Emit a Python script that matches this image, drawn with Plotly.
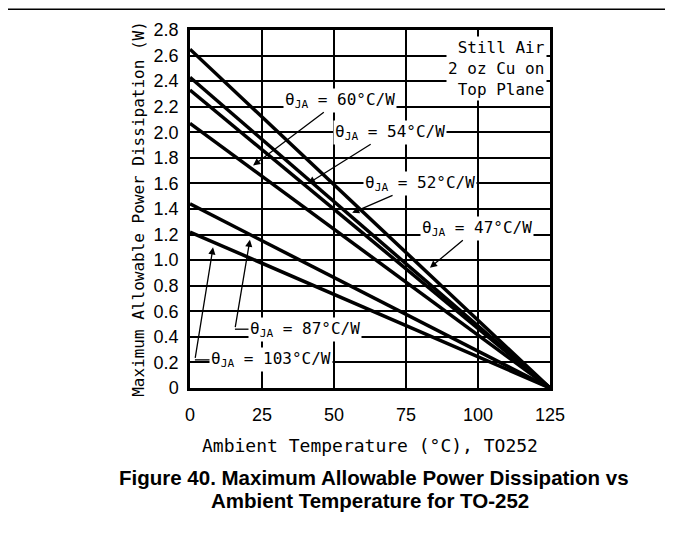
import plotly.graph_objects as go

# ambient temperature (C) and power at 0 C for each theta_JA curve
temps = [0, 125]
theta = ["47", "52", "54", "60", "87", "103"]
p_at_0 = [2.65, 2.43, 2.33, 2.07, 1.44, 1.22]

y_ticks = [0, 0.2, 0.4, 0.6, 0.8, 1.0, 1.2, 1.4, 1.6, 1.8, 2.0, 2.2, 2.4, 2.6, 2.8]
y_ticktext = ["0", "0.2", "0.4", "0.6", "0.8", "1.0", "1.2", "1.4", "1.6", "1.8",
              "2.0", "2.2", "2.4", "2.6", "2.8"]
x_ticks = [0, 25, 50, 75, 100, 125]

mono = "DejaVu Sans Mono, Liberation Mono, monospace"
sans = "Liberation Sans, Arial, sans-serif"

fig = go.Figure()
for t, p in zip(theta, p_at_0):
    fig.add_trace(go.Scatter(x=temps, y=[p, 0], mode="lines", name=t,
                             line=dict(color="black", width=3.5)))

lab_font = dict(family=mono, size=16, color="black")
arr = dict(arrowhead=2, arrowsize=1.1, arrowwidth=1.3, arrowcolor="black",
           axref="x", ayref="y")

def theta_text(v):
    return "θ<sub>JA</sub> = " + v + "°C/W"

# labels with arrows: (text, label x, label y, tip x, tip y)
arrows = [
    ("60", 52, 2.25, 21.9, 1.74),
    ("54", 69.4, 2.00, 41, 1.60),
    ("52", 80, 1.60, 56.3, 1.37),
    ("47", 99.7, 1.25, 83.3, 0.94),
]
for v, ax, ay, x, y in arrows:
    fig.add_annotation(text=theta_text(v), x=x, y=y, ax=ax, ay=ay, showarrow=True,
                       font=lab_font, bgcolor="white", borderpad=1, **arr)

# bracket style leaders for the two lower curves
lower = [
    ("87", 20.0, 0.46, 15.6, 0.46, 20.8, 1.16),
    ("103", 6.5, 0.22, 1.7, 0.22, 8.0, 1.10),
]
for v, tx, ty, cx, cy, x, y in lower:
    fig.add_annotation(text=theta_text(v), x=tx, y=ty, xanchor="left", showarrow=False,
                       font=lab_font, bgcolor="white", borderpad=1)
    fig.add_shape(type="line", x0=cx, y0=cy, x1=tx + 1, y1=ty, line=dict(color="black", width=1.3))
    fig.add_annotation(text=" ", x=x, y=y, ax=cx, ay=cy, showarrow=True, standoff=0,
                       startstandoff=0, font=dict(size=1), **arr)

fig.add_annotation(text="Still Air<br>2 oz Cu on<br>Top Plane", x=123.8, y=2.75,
                   xanchor="right", yanchor="top", align="right", showarrow=False,
                   font=lab_font, bgcolor="white")

# caption below the chart
cap_font = dict(family=sans, size=20.5, color="black")
fig.add_annotation(text="<b>Figure 40. Maximum Allowable Power Dissipation vs</b>",
                   xref="paper", yref="paper", x=0.51, y=-0.251, yanchor="middle",
                   showarrow=False, font=cap_font)
fig.add_annotation(text="<b>Ambient Temperature for TO-252</b>",
                   xref="paper", yref="paper", x=0.5, y=-0.313, yanchor="middle",
                   showarrow=False, font=cap_font)

# page frame (top and right edges)
fig.add_shape(type="line", xref="paper", yref="paper", x0=-0.51, y0=1.058, x1=1.336, y1=1.058,
              line=dict(color="black", width=1.5))
fig.add_shape(type="line", xref="paper", yref="paper", x0=1.336, y0=1.058, x1=1.336, y1=-0.45,
              line=dict(color="black", width=1.5))

fig.update_layout(
    width=673, height=537, showlegend=False,
    margin=dict(l=182, r=131, t=22, b=157),
    plot_bgcolor="white", paper_bgcolor="white",
    font=dict(family=sans, size=18, color="black"),
)
fig.update_xaxes(range=[0, 125], tickvals=x_ticks, showgrid=True, gridcolor="black",
                 gridwidth=2, showline=True, linecolor="black", linewidth=2.5, mirror=True,
                 zeroline=False, ticks="outside", ticklen=9, tickcolor="rgba(0,0,0,0)",
                 tickfont=dict(family=sans, size=18),
                 title=dict(text="Ambient Temperature (°C), TO252", standoff=16,
                            font=dict(family=mono, size=18)))
fig.update_yaxes(range=[0, 2.8], tickvals=y_ticks, ticktext=y_ticktext, showgrid=True,
                 gridcolor="black", gridwidth=2, showline=True, linecolor="black",
                 linewidth=2.5, mirror=True, zeroline=False, ticks="outside", ticklen=5,
                 tickcolor="rgba(0,0,0,0)", tickfont=dict(family=sans, size=18),
                 title=dict(text="Maximum Allowable Power Dissipation (W)", standoff=6,
                            font=dict(family=mono, size=16)))

fig.write_html("out.html")
